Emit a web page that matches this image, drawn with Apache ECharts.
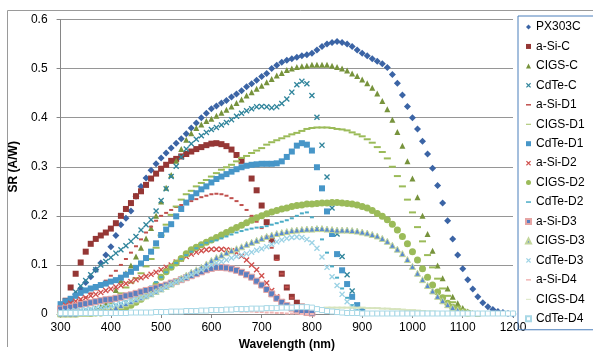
<!DOCTYPE html>
<html><head><meta charset="utf-8">
<script src="https://cdn.jsdelivr.net/npm/echarts@6/dist/echarts.min.js"></script>
<style>html,body{margin:0;padding:0;background:#fff}#c{width:593px;height:356px}</style>
</head><body><div id="c"></div>
<script>
const wavelengths = [300,310,320,330,340,350,360,370,380,390,400,410,420,430,440,450,460,470,480,490,500,510,520,530,540,550,560,570,580,590,600,610,620,630,640,650,660,670,680,690,700,710,720,730,740,750,760,770,780,790,800,810,820,830,840,850,860,870,880,890,900,910,920,930,940,950,960,970,980,990,1000,1010,1020,1030,1040,1050,1060,1070,1080,1090,1100,1110,1120,1130,1140,1150,1160,1170,1180,1190,1200];
const xTicks = [300,400,500,600,700,800,900,1000,1100,1200];
const yTicks = [0,0.1,0.2,0.3,0.4,0.5,0.6];

const PX303C = [0.005,0.015,0.027,0.04,0.052,0.064,0.076,0.09,0.104,0.12,
0.137,0.16,0.182,0.195,0.21,0.24,0.26,0.277,0.293,0.306,
0.318,0.328,0.338,0.348,0.357,0.367,0.379,0.389,0.4,0.409,
0.418,0.424,0.43,0.435,0.442,0.448,0.455,0.463,0.469,0.476,
0.484,0.49,0.5,0.507,0.513,0.517,0.52,0.523,0.526,0.528,
0.531,0.538,0.545,0.55,0.553,0.555,0.553,0.55,0.545,0.538,
0.531,0.526,0.52,0.515,0.51,0.502,0.488,0.47,0.446,0.423,
0.4,0.377,0.352,0.326,0.297,0.262,0.226,0.19,0.153,0.12,
0.092,0.07,0.051,0.035,0.023,0.015,0.009,0.005,0.003,0.001,0.0];
const aSiC = [0.01,0.027,0.054,0.082,0.105,0.127,0.143,0.153,0.16,0.166,
0.174,0.185,0.2,0.214,0.226,0.24,0.25,0.263,0.276,0.286,
0.296,0.304,0.312,0.316,0.321,0.326,0.331,0.336,0.34,0.344,
0.347,0.348,0.346,0.342,0.335,0.324,0.312,null,0.276,0.252,
0.221,0.187,0.151,0.115,0.082,0.054,0.035,0.023,0.015,0.01,0.007];
const CIGSC = [0,0.001,0.002,0.003,0.004,0.006,0.008,0.011,0.015,0.021,
0.03,0.049,0.068,0.083,0.099,0.117,0.135,0.154,0.175,0.2,
0.229,0.257,0.283,0.312,0.336,0.355,0.368,0.379,0.386,0.393,
0.398,0.404,0.41,0.416,0.423,0.43,0.437,0.445,0.452,0.459,
0.465,0.472,0.479,0.486,0.491,0.497,0.5,0.503,0.505,0.506,
0.508,0.508,0.508,0.508,0.506,0.503,0.5,0.496,0.49,0.485,
0.478,0.47,0.461,0.449,0.434,0.417,0.396,0.371,0.343,0.311,
0.276,0.238,0.2,0.163,0.129,0.099,0.073,0.052,0.035,0.022,
0.012,0.005,0.002,0.001];
const CdTeC = [0.01,0.02,0.03,0.045,0.057,0.068,0.08,0.09,0.1,0.107,
0.115,0.124,0.131,0.139,0.148,0.158,0.171,0.182,0.192,0.21,
0.231,0.255,0.28,0.301,0.32,0.336,0.347,0.356,0.363,0.37,
0.376,0.38,0.385,0.39,0.396,0.403,0.409,0.414,0.418,0.422,
0.423,0.422,0.42,0.422,0.429,0.438,0.452,0.467,0.474,0.469,
0.445,0.401,0.344,0.279,0.216,0.163,0.117,0.08,0.047,0.018,0.005];
const aSiD1 = [0.005,0.01,0.015,0.02,0.027,0.034,0.042,0.05,0.059,0.068,
0.078,0.088,0.1,0.112,0.125,0.138,0.152,0.166,0.178,0.19,
0.2,0.206,0.212,0.218,0.222,0.226,0.23,0.234,0.238,0.241,
0.244,0.245,0.244,0.241,0.236,0.23,0.222,0.212,0.2,0.188,
0.175,0.158,0.135,0.11,0.082,0.055,0.033,0.018,0.008,0.004,0.002];
const CIGSD1 = [0,0,0.001,0.001,0.002,0.003,0.004,0.006,0.01,0.015,
0.022,0.031,0.042,0.054,0.064,0.073,0.083,0.097,0.112,0.135,
0.16,0.182,0.202,0.219,0.233,0.244,0.251,0.26,0.267,0.273,
0.28,0.287,0.294,0.299,0.304,0.311,0.318,0.322,0.328,0.333,
0.338,0.345,0.35,0.354,0.358,0.362,0.366,0.369,0.373,0.377,
0.379,0.38,0.38,0.38,0.379,0.377,0.376,0.374,0.37,0.366,
0.362,0.356,0.349,0.34,0.33,0.317,0.3,0.281,0.26,0.233,
0.207,0.177,0.148,0.12,0.095,0.072,0.052,0.037,0.024,0.015,
0.009,0.005,0.002];
const CdTeD1 = [0.02,0.026,0.031,0.037,0.043,0.048,0.052,0.055,0.059,0.062,
0.066,0.069,0.074,0.08,0.086,0.094,0.103,0.114,0.127,0.144,
0.161,0.172,0.183,0.199,0.214,0.227,0.238,0.246,0.254,0.26,
0.268,0.275,0.28,0.285,0.29,0.295,0.299,0.302,0.304,0.305,
0.306,0.306,0.306,0.307,0.311,0.32,0.331,0.343,0.348,0.345,
0.333,0.299,0.256,0.209,0.163,0.122,0.089,0.061,0.035,0.018,0.007];
const aSiD2 = [0.012,0.018,0.022,0.026,0.03,0.033,0.037,0.04,0.044,0.048,
0.051,0.055,0.058,0.062,0.066,0.07,0.074,0.077,0.081,0.085,
0.09,0.095,0.1,0.106,0.112,0.117,0.122,0.126,0.129,0.131,
0.132,0.132,0.132,0.131,0.129,0.125,0.118,0.11,0.1,0.09,
0.078,0.063,0.048,0.035,0.025,0.017,0.011,0.007,0.004,0.002,0.001];
const CIGSD2 = [0,0,0,0,0.001,0.001,0.001,0.002,0.002,0.003,
0.004,0.006,0.009,0.013,0.018,0.024,0.03,0.037,0.047,0.06,
0.075,0.086,0.095,0.104,0.113,0.123,0.131,0.136,0.141,0.146,
0.151,0.156,0.161,0.166,0.171,0.176,0.181,0.186,0.191,0.196,
0.2,0.204,0.208,0.211,0.214,0.216,0.219,0.221,0.222,0.224,
0.224,0.225,0.226,0.226,0.227,0.227,0.226,0.225,0.224,0.222,
0.219,0.216,0.211,0.205,0.199,0.192,0.183,0.171,0.158,0.143,
0.127,0.11,0.092,0.075,0.059,0.045,0.033,0.022,0.014,0.008,
0.004,0.002];
const CdTeD2 = [0.004,0.005,0.006,0.007,0.008,0.009,0.01,0.011,0.012,0.014,
0.016,0.019,0.022,0.026,0.03,0.035,0.041,0.048,0.056,0.065,
0.075,0.085,0.095,0.104,0.112,0.12,0.127,0.134,0.141,0.145,
0.148,0.15,0.154,0.158,0.162,0.166,0.169,0.172,0.174,0.176,
0.177,0.179,0.182,0.185,0.188,0.191,0.195,0.2,0.205,0.207,
0.197,0.175,0.152,0.125,0.097,0.074,0.052,0.033,0.018,0.008,
0.003,0.001,0.001,0.001,0.001,0.001,0.001,0.001,0.001,0.001,
0.001,0.001,0.001,0.001,0.001,0.001,0.001,0.001,0.001,0.001,
0.001,0.001,0.001,0.001,0.001,0.001,0.001,0.001,0.001,0.001,0.001];
const aSiD3 = [0.01,0.012,0.014,0.016,0.019,0.021,0.023,0.025,0.027,0.029,
0.03,0.032,0.034,0.037,0.039,0.042,0.045,0.048,0.05,0.053,
0.056,0.059,0.063,0.066,0.07,0.074,0.078,0.082,0.086,0.09,
0.093,0.095,0.095,0.094,0.092,0.089,0.085,0.08,0.075,0.067,
0.059,0.05,0.041,0.032,0.024,0.017,0.012,0.008,0.005,0.003,0.002];
const CIGSD3 = [0,0,0,0,0.001,0.001,0.002,0.003,0.004,0.006,
0.008,0.013,0.017,0.021,0.025,0.029,0.033,0.037,0.041,0.046,
0.051,0.056,0.061,0.067,0.073,0.079,0.085,0.09,0.095,0.102,
0.109,0.115,0.12,0.125,0.129,0.133,0.137,0.142,0.146,0.15,
0.154,0.158,0.161,0.164,0.166,0.168,0.17,0.171,0.172,0.173,
0.173,0.174,0.174,0.173,0.172,0.171,0.171,0.171,0.17,0.169,
0.167,0.165,0.162,0.159,0.154,0.148,0.14,0.132,0.123,0.111,
0.097,0.083,0.07,0.058,0.047,0.036,0.027,0.019,0.013,0.008,
0.004,0.002];
const CdTeD3 = [0.004,0.005,0.006,0.007,0.008,0.009,0.01,0.012,0.013,0.015,
0.017,0.019,0.022,0.024,0.027,0.03,0.033,0.036,0.04,0.045,
0.05,0.055,0.06,0.065,0.07,0.075,0.08,0.085,0.09,0.095,
0.1,0.104,0.107,0.11,0.114,0.117,0.12,0.123,0.126,0.13,
0.133,0.137,0.142,0.147,0.151,0.154,0.156,0.157,0.156,0.152,
0.145,0.134,0.116,0.095,0.076,0.058,0.04,0.025,0.014,0.006,0.002];
const aSiD4 = [0.001,0.001,0.001,0.001,0.002,0.002,0.002,0.002,0.003,0.003,
0.003,0.003,0.003,0.004,0.004,0.004,0.004,0.004,0.005,0.005,
0.005,0.005,0.005,0.005,0.006,0.006,0.006,0.006,0.006,0.006,
0.006,0.006,0.006,0.006,0.006,0.006,0.005,0.005,0.005,0.004,
0.004,0.003,0.003,0.002,0.002,0.001,0.001,0.001,0,0,0];
const CIGSD4 = [0,0,0,0,0,0,0,0,0,0.001,
0.001,0.001,0.001,0.001,0.001,0.002,0.002,0.002,0.002,0.003,
0.003,0.003,0.004,0.004,0.004,0.005,0.005,0.005,0.006,0.006,
0.006,0.007,0.007,0.007,0.008,0.008,0.008,0.009,0.009,0.009,
0.01,0.01,0.01,0.011,0.011,0.011,0.011,0.012,0.012,0.012,
0.012,0.012,0.012,0.013,0.013,0.013,0.013,0.013,0.013,0.013,
0.013,0.012,0.012,0.012,0.011,0.011,0.01,0.01,0.009,0.008,
0.008,0.007,0.006,0.005,0.005,0.004,0.003,0.003,0.002,0.002,
0.001,0.001,0.001,0,0];
const CdTeD4 = [0.002,0.002,0.002,0.002,0.002,0.002,0.002,0.002,0.002,0.002,
0.002,0.002,0.002,0.002,0.003,0.003,0.003,0.003,0.003,0.004,
0.004,0.004,0.005,0.005,0.005,0.006,0.006,0.006,0.007,0.007,
0.008,0.008,0.008,0.009,0.009,0.01,0.01,0.01,0.011,0.011,
0.011,0.012,0.012,0.012,0.013,0.013,0.013,0.014,0.014,0.014,
0.013,0.01,0.008,0.006,0.005,0.004,0.003,0.002,0.002,0.002,
0.001,0.001,0.001,0.001,0.001,0.001,0.001,0.001,0.001,0.001,
0.001,0.001,0.001,0.001,0.001,0.001,0.001,0.001,0.001,0.001,
0.001,0.001,0.001,0.001,0.001,0.001,0.001,0.001,0.001,0.001,0.001];

const X_PATH = 'path://M0,1.6L1.6,0L5,3.4L8.4,0L10,1.6L6.6,5L10,8.4L8.4,10L5,6.6L1.6,10L0,8.4L3.4,5Z';
const DASH = 'path://M0,0h10v3H0z';
const LDASH = 'path://M0,0h16v3H0z';

const seriesDefs = [
  {name:'PX303C', data:PX303C, symbol:'diamond', size:7, color:'#3B64A5'},
  {name:'a-Si-C', data:aSiC, symbol:'rect', size:6, color:'#953735'},
  {name:'CIGS-C', data:CIGSC, symbol:'triangle', size:6, color:'#77933C'},
  {name:'CdTe-C', data:CdTeC, symbol:X_PATH, size:6, color:'#31859C'},
  {name:'a-Si-D1', data:aSiD1, symbol:DASH, size:[4,2], color:'#C0504D'},
  {name:'CIGS-D1', data:CIGSD1, symbol:LDASH, size:[7,2], color:'#9BBB59'},
  {name:'CdTe-D1', data:CdTeD1, symbol:'rect', size:6, color:'#4796C8'},
  {name:'a-Si-D2', data:aSiD2, symbol:X_PATH, size:6, color:'#D0504D'},
  {name:'CIGS-D2', data:CIGSD2, symbol:'circle', size:7, color:'#9BBB59'},
  {name:'CdTe-D2', data:CdTeD2, symbol:DASH, size:[4,2], color:'#4BACC6'},
  {name:'a-Si-D3', data:aSiD3, symbol:'rect', size:6, color:'#5B7FC0', border:'#E6A5A4'},
  {name:'CIGS-D3', data:CIGSD3, symbol:'triangle', size:6, color:'#5B8BD0', border:'#C3D69B'},
  {name:'CdTe-D3', data:CdTeD3, symbol:X_PATH, size:6, color:'#9DD3E5'},
  {name:'a-Si-D4', data:aSiD4, symbol:DASH, size:[4,2], color:'#F2B6B5'},
  {name:'CIGS-D4', data:CIGSD4, symbol:LDASH, size:[7,2], color:'#D7E4BD'},
  {name:'CdTe-D4', data:CdTeD4, symbol:'rect', size:5, color:'#FFFFFF', border:'#A8D8E6'}
];

const FONT = 'Liberation Sans, Arial, sans-serif';
const chart = echarts.init(document.getElementById('c'), null, {renderer:'canvas'});
chart.setOption({
  animation:false,
  backgroundColor:'#fff',
  textStyle:{fontFamily:FONT},
  graphic:[
    {type:'polyline', shape:{points:[[7.5,347],[7.5,10.5],[593,10.5]]}, style:{stroke:'#9a9a9a', lineWidth:1, fill:null}, silent:true}
  ],
  grid:{left:58, right:80, top:19.5, bottom:42},
  legend:{
    orient:'vertical', left:518, top:16,
    padding:[4,14,4,7],
    itemWidth:5, itemHeight:5, itemGap:5.45,
    borderColor:'#4A7EBB', borderWidth:1,
    textStyle:{fontSize:12, color:'#000', fontFamily:FONT, lineHeight:14},
    symbolKeepAspect:true,
    data:seriesDefs.map(s=>s.name)
  },
  xAxis:{
    type:'value', min:xTicks[0], max:xTicks[xTicks.length-1], interval:100,
    name:'Wavelength (nm)', nameLocation:'middle', nameGap:24,
    nameTextStyle:{fontSize:12, fontWeight:'bold', color:'#000', fontFamily:FONT},
    axisLine:{lineStyle:{color:'#868686'}},
    axisTick:{show:true, length:4, lineStyle:{color:'#868686'}},
    axisLabel:{fontSize:12, color:'#000', margin:8, fontFamily:FONT, formatter:v=>String(v)},
    splitLine:{show:false}
  },
  yAxis:{
    type:'value', min:yTicks[0], max:yTicks[yTicks.length-1], interval:0.1,
    name:'SR (A/W)', nameLocation:'middle', nameGap:27, nameRotate:90,
    nameTextStyle:{fontSize:12, fontWeight:'bold', color:'#000', fontFamily:FONT},
    axisLine:{show:true, lineStyle:{color:'#868686'}},
    axisTick:{show:true, length:4, lineStyle:{color:'#868686'}},
    axisLabel:{fontSize:12, color:'#000', margin:13, fontFamily:FONT},
    splitLine:{show:true, lineStyle:{color:'#969696', width:1}}
  },
  series: seriesDefs.map(s=>({
    name:s.name, type:'scatter',
    symbol:s.symbol, symbolSize:s.size,
    data: wavelengths.map((w,i)=> (i < s.data.length && s.data[i] !== null) ? [w, s.data[i]] : null).filter(p=>p),
    itemStyle:{color:s.color, borderColor:s.border||s.color, borderWidth:s.border?1:0, opacity:1},
    emphasis:{disabled:true}
  }))
});
</script></body></html>
